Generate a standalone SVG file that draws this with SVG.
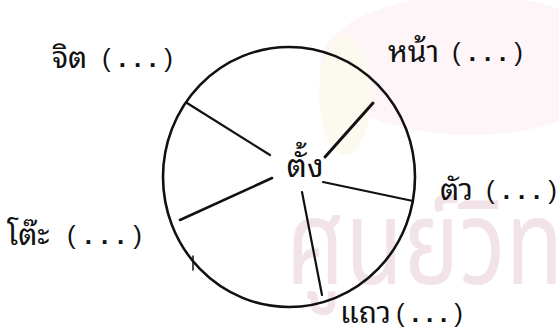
<svg xmlns="http://www.w3.org/2000/svg" width="559" height="329" viewBox="0 0 559 329">
  <style>
    .th { font-family: "Noto Sans Thai Looped", "Loma", "Norasi", "Garuda", "Noto Serif Thai", "Noto Sans Thai", "Noto Sans", sans-serif; font-size: 30px; fill: #111; }
    .par { font-family: "Liberation Sans", Arial, sans-serif; font-size: 26px; letter-spacing: 8px; }
    .dots { font-weight: bold; }
    .end { font-family: "Liberation Sans", Arial, sans-serif; font-size: 26px; letter-spacing: 0; }
    .ctr { font-family: "Noto Sans Thai Looped", "Loma", "Norasi", "Garuda", "Noto Serif Thai", "Noto Sans Thai", "Noto Sans", sans-serif; font-size: 32px; fill: #111; }
    .wm { font-family: "Noto Sans Thai", "Loma", "Garuda", "Noto Sans", sans-serif; font-size: 118px; fill: #f2e2ea; }
    .ink { fill: none; stroke: #111; stroke-linecap: round; stroke-linejoin: round; }
  </style>
  <rect width="559" height="329" fill="#ffffff"/>
  <g id="watermark">
    <ellipse cx="470" cy="65" rx="150" ry="70" fill="#fdf5f8"/>
    <ellipse cx="345" cy="95" rx="26" ry="60" fill="#fcf9ef"/>
    <text class="wm" transform="translate(286,284) scale(0.8,1)">ศูนย์วิทย</text>
  </g>
  <g id="circle">
    <ellipse class="ink" cx="289" cy="177" rx="126" ry="130" stroke-width="2.6"/>
  </g>
  <g id="connectors" class="ink">
    <line x1="187" y1="103" x2="270" y2="155" stroke-width="2.2"/>
    <line x1="373" y1="103" x2="325" y2="157" stroke-width="3"/>
    <line x1="323" y1="182" x2="413" y2="201" stroke-width="2.2"/>
    <line x1="302" y1="192" x2="322" y2="295" stroke-width="2.2"/>
    <line x1="272" y1="178" x2="180" y2="220" stroke-width="2.6"/>
    <line x1="193" y1="256" x2="193" y2="270" stroke-width="1.5"/>
  </g>
  <g id="center">
    <text class="ctr" x="305" y="177" text-anchor="middle">ตั้ง</text>
  </g>
  <g id="n-jit">
    <text class="th" x="52" y="68">จิต<tspan class="par" x="102" y="67">(<tspan class="dots">...</tspan></tspan><tspan class="end">)</tspan></text>
  </g>
  <g id="n-na">
    <text class="th" x="388" y="62">หน้า<tspan class="par" x="452" y="61">(<tspan class="dots">...</tspan></tspan><tspan class="end">)</tspan></text>
  </g>
  <g id="n-tua">
    <text class="th" x="440" y="200">ตัว<tspan class="par" x="486" y="199">(<tspan class="dots">...</tspan></tspan><tspan class="end">)</tspan></text>
  </g>
  <g id="n-to">
    <text class="th" x="7" y="245">โต๊ะ<tspan class="par" x="67" y="244" style="letter-spacing:9px">(<tspan class="dots">...</tspan></tspan><tspan class="end">)</tspan></text>
  </g>
  <g id="n-thaeo">
    <text class="th" x="340" y="323">แถว<tspan class="par" x="396" y="322" style="letter-spacing:7px">(<tspan class="dots">...</tspan></tspan><tspan class="end">)</tspan></text>
  </g>
</svg>
